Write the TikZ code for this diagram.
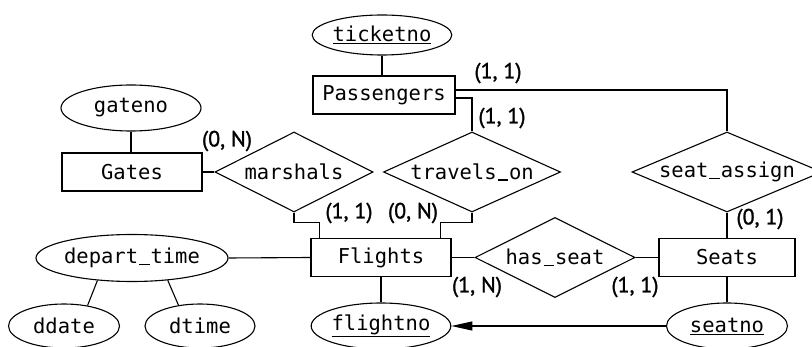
\documentclass[tikz,border=0pt]{standalone}
\usepackage{fontspec}
\setmonofont{DejaVu Sans Mono}
\newfontfamily\lblfont[FakeBold=1.2]{PT Sans}
\usetikzlibrary{shapes.geometric,arrows.meta}
\newcommand\usc{\makebox[0.602em]{\rule[-0.07em]{0.52em}{0.07em}}}
\tikzset{
  ent/.style={draw, rectangle, minimum width=#1, minimum height=38, inner sep=0pt, font=\ttfamily\fontsize{20.5}{21}\selectfont},
  attr/.style={draw, ellipse, inner sep=0pt, font=\ttfamily\fontsize{20.5}{21}\selectfont},
  rel/.style={draw, diamond, minimum width=#1, minimum height=80, inner sep=0pt, font=\ttfamily\fontsize{20.5}{21}\selectfont},
  card/.style={font=\lblfont\fontsize{22}{22}\selectfont, inner sep=0pt},
  conn/.style={line width=1.1pt},
}
\begin{document}
\begin{tikzpicture}[x=1pt,y=-1pt, line width=1.1pt]
\useasboundingbox (0,0) rectangle (812,347);
% entities
\node[ent=142] (pass) at (384,95) {Passengers};
\node[ent=140] (gates) at (132,172) {Gates};
\node[ent=140] (flights) at (381,257.5) {Flights};
\node[ent=136] (seats) at (727,257.5) {Seats};
% attributes
\node[attr, minimum width=127, minimum height=40] (ticketno) at (382,35) {\underline{ticketno}};
\node[attr, minimum width=140, minimum height=46] (gateno) at (131,108) {gateno};
\node[attr, minimum width=163, minimum height=47] (dept) at (132,258) {depart\usc time};
\node[attr, minimum width=111, minimum height=44] (ddate) at (64,326) {ddate};
\node[attr, minimum width=110, minimum height=44] (dtime) at (200,326) {dtime};
\node[attr, minimum width=131, minimum height=46] (flightno) at (381,326) {\underline{flightno}};
\node[attr, minimum width=121, minimum height=46] (seatno) at (727,326) {\underline{seatno}};
% relationships
\node[rel=158] (marsh) at (294,172) {\makebox[0pt]{marshals}};
\node[rel=177] (trav) at (472,172) {\makebox[0pt]{travels\usc on}};
\node[rel=190] (sassign) at (727,172) {\makebox[0pt]{seat\usc assign}};
\node[rel=160] (hasseat) at (555,257.5) {\makebox[0pt]{has\usc seat}};
% connectors
\draw[conn] (ticketno.south) -- (ticketno.south |- pass.north);
\draw[conn] (gateno.south) -- (gateno.south |- gates.north);
\draw[conn] ([yshift=5pt]pass.east) -| (sassign.north);
\draw[conn] ([yshift=-3pt]pass.east) -| (trav.north);
\draw[conn] (gates.east) -- (marsh.west);
\draw[conn] (marsh.south) -- ++(0,10) -| ([xshift=9pt]flights.north west);
\draw[conn] (trav.south) -- ++(0,10) -| ([xshift=-11pt]flights.north east);
\draw[conn] (sassign.south) -- (seats.north);
\draw[conn] (flights.east) -- (hasseat.west);
\draw[conn] (hasseat.east) -- (seats.west);
\draw[conn] (dept.east) -- (flights.west);
\draw[conn] (dept.213) -- (ddate.41);
\draw[conn] (dept.328) -- (dtime.136);
\draw[conn] (flights.south) -- (flightno.north);
\draw[conn] (seats.south) -- (seatno.north);
\draw[conn, -{Triangle[length=21pt,width=9pt]}] (seatno.west) -- (flightno.east);
% cardinalities
\node[card] (c1) at (498,73) {(1, 1)};
\node[card] (c2) at (502,118) {(1, 1)};
\node[card] (c3) at (227,141) {(0, N)};
\node[card] (c4) at (349,213) {(1, 1)};
\node[card] (c5) at (413,213) {(0, N)};
\node[card] (c6) at (760,219) {(0, 1)};
\node[card] (c7) at (477,287) {(1, N)};
\node[card] (c8) at (635,287) {(1, 1)};
\end{tikzpicture}
\end{document}
